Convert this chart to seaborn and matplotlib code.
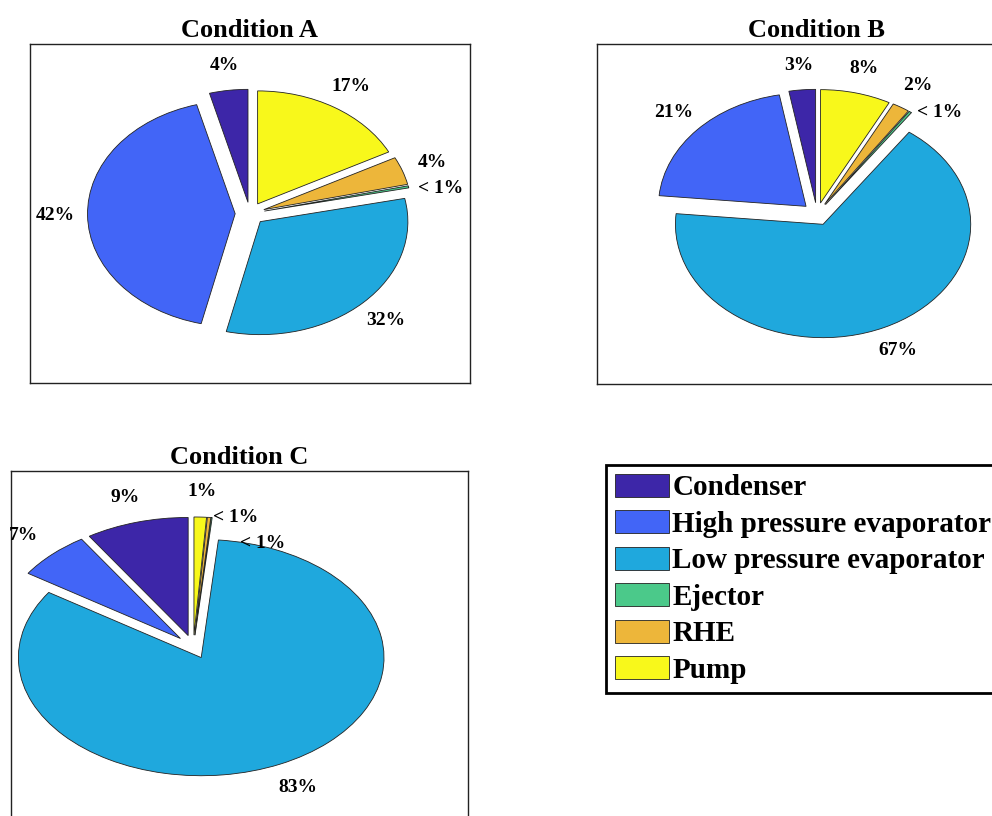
import numpy as np
import matplotlib
matplotlib.use("Agg")
import matplotlib.pyplot as plt
import seaborn as sns

# components in the order they go round the pie (from 12 o'clock, counter-clockwise)
components = ["Condenser", "High pressure evaporator", "Low pressure evaporator",
              "Ejector", "RHE", "Pump"]
colors = ["#3d26a8", "#4265f7", "#1fa8dd", "#4bc98a", "#edb63a", "#f8f81b"]

# share of each component (%)
share_a = [4.2, 42.1, 32.0, 0.3, 4.0, 17.4]
share_b = [2.9, 20.6, 66.6, 0.3, 1.9, 7.7]
share_c = [9.1, 6.6, 82.8, 0.1, 0.3, 1.1]

titles = ["Condition A", "Condition B", "Condition C"]

sns.set_style("white")
plt.rcParams["font.family"] = ["Liberation Serif", "DejaVu Serif"]
plt.rcParams["font.weight"] = "bold"
plt.rcParams["text.color"] = "black"


def pct_label(v):
    if v < 0.5:
        return "< 1%"
    return f"{v:.0f}%"


def draw_pie(ax, shares, title, xlim, ylim):
    wedges, _ = ax.pie(shares, colors=colors, explode=[0.1] * len(shares),
                       startangle=90, counterclock=True, frame=True,
                       wedgeprops=dict(edgecolor="#222222", linewidth=0.6))
    ax.set_aspect("auto")
    ax.set_xlim(xlim)
    ax.set_ylim(ylim)
    ax.set_xticks([])
    ax.set_yticks([])
    for s in ax.spines.values():
        s.set_visible(True)
        s.set_color("#222222")
        s.set_linewidth(1.0)
    ax.set_title(title, fontsize=19, fontweight="bold", pad=5, color="black")

    texts = []
    for w, v in zip(wedges, shares):
        th = np.deg2rad((w.theta1 + w.theta2) / 2)
        cx, cy = w.center
        t = ax.text(cx + 1.22 * np.cos(th), cy + 1.22 * np.sin(th), pct_label(v),
                    ha="center", va="center", fontsize=14, fontweight="bold",
                    color="black")
        texts.append((t, th))
    return wedges, texts


fig = plt.figure(figsize=(9.92, 8.16), dpi=100)
ax_a = fig.add_axes([0.0302, 0.5306, 0.4435, 0.4154])
ax_b = fig.add_axes([0.6018, 0.5294, 0.4435, 0.4167])
ax_c = fig.add_axes([0.0106, -0.0085, 0.4607, 0.4314])

wedges_a, texts_a = draw_pie(ax_a, share_a, titles[0], (-1.49, 1.49), (-1.5, 1.5))
wedges_b, texts_b = draw_pie(ax_b, share_b, titles[1], (-1.49, 1.49), (-1.5, 1.5))
wedges_c, texts_c = draw_pie(ax_c, share_c, titles[2], (-1.0, 1.5), (-1.49, 1.49))

# push apart labels of the tiny slices (clockwise and downwards)
fig.canvas.draw()
renderer = fig.canvas.get_renderer()
for ax, texts in [(ax_a, texts_a), (ax_b, texts_b), (ax_c, texts_c)]:
    placed = []
    for t, th in reversed(texts):
        step = np.array([np.sin(th), -np.cos(th) - 1.0])
        step = step / np.hypot(*step)
        for _ in range(300):
            bb = t.get_window_extent(renderer).expanded(1.0, 2.0)
            if not any(bb.overlaps(p) for p in placed):
                break
            disp = ax.transData.transform(t.get_position()) + step
            t.set_position(ax.transData.inverted().transform(disp))
        placed.append(t.get_window_extent(renderer))

leg = fig.legend(wedges_a, components, loc="upper left",
                 bbox_to_anchor=(606 / 992, 1 - 465 / 816),
                 prop={"size": 21, "weight": "bold"}, frameon=True, fancybox=False,
                 edgecolor="black", framealpha=1, handlelength=1.85, handleheight=0.85,
                 handletextpad=0.12, labelspacing=0.3, borderpad=0.3, borderaxespad=0)
leg.get_frame().set_linewidth(2)
for txt in leg.get_texts():
    txt.set_color("black")

fig.savefig("out.png", dpi=100)
